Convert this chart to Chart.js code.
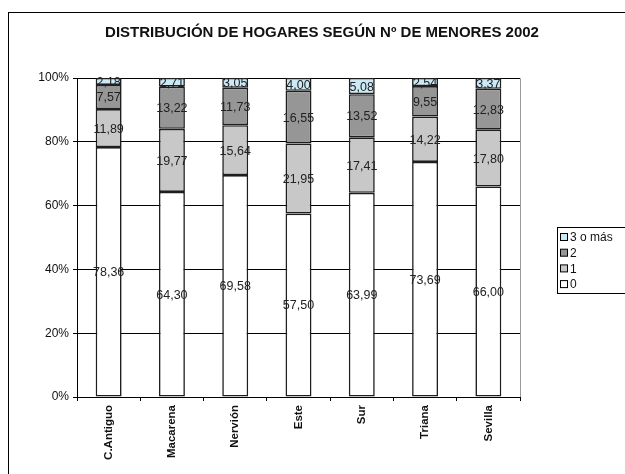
<!DOCTYPE html>
<html>
<head>
<meta charset="utf-8">
<script src="https://cdn.jsdelivr.net/npm/chart.js@4"></script>
<style>
  html, body { margin: 0; padding: 0; background: #fff; }
  #wrap { width: 625px; height: 474px; }
</style>
</head>
<body>
<div id="wrap"><canvas id="chart" width="625" height="474"></canvas></div>
<script>
const chartTitle = "DISTRIBUCIÓN DE HOGARES SEGÚN Nº DE MENORES 2002";
const districts = ["C.Antiguo", "Macarena", "Nervión", "Este", "Sur", "Triana", "Sevilla"];
const seriesNames = ["0", "1", "2", "3 o más"];
const zero = [78.36, 64.30, 69.58, 57.50, 63.99, 73.69, 66.00];
const one = [11.89, 19.77, 15.64, 21.95, 17.41, 14.22, 17.80];
const two = [7.57, 13.22, 11.73, 16.55, 13.52, 9.55, 12.83];
const threePlus = [2.18, 2.71, 3.05, 4.00, 5.08, 2.54, 3.37];
const yTicks = [0, 20, 40, 60, 80, 100];

const fills = ["#ffffff", "#c8c8c8", "#969696", "#cceaf6"];
const FONT = "'Liberation Sans', Arial, sans-serif";

// frame, title and gray plot border
const decorPlugin = {
  id: "decor",
  beforeDraw(chart) {
    const ctx = chart.ctx;
    const a = chart.chartArea;
    ctx.save();
    ctx.fillStyle = "#fff";
    ctx.fillRect(0, 0, chart.width, chart.height);
    ctx.strokeStyle = "#000";
    ctx.lineWidth = 1;
    ctx.strokeRect(8.5, 12.5, 700, 600);
    ctx.fillStyle = "#111";
    ctx.font = "bold 15px " + FONT;
    ctx.textAlign = "center";
    ctx.textBaseline = "middle";
    ctx.fillText(chartTitle, 322, 33);
    ctx.strokeStyle = "#9a9a9a";
    ctx.beginPath();
    ctx.moveTo(a.left, a.top + 0.5);
    ctx.lineTo(a.right + 0.5, a.top + 0.5);
    ctx.lineTo(a.right + 0.5, a.bottom);
    ctx.stroke();
    ctx.restore();
  },
  afterDatasetsDraw(chart) {
    // value labels in each segment
    const ctx = chart.ctx;
    ctx.save();
    ctx.font = "12.5px " + FONT;
    ctx.fillStyle = "#222";
    ctx.textAlign = "center";
    ctx.textBaseline = "middle";
    chart.data.datasets.forEach((ds, i) => {
      chart.getDatasetMeta(i).data.forEach((bar, j) => {
        const mid = (bar.y + bar.base) / 2;
        ctx.fillText(ds.data[j].toFixed(2).replace(".", ","), bar.x, mid + 1);
      });
    });
    // legend box, reversed order
    const lx = 557, ly = 227, lh = 66;
    ctx.strokeStyle = "#000";
    ctx.lineWidth = 1;
    ctx.strokeRect(lx + 0.5, ly + 0.5, 100, lh);
    ctx.textAlign = "left";
    ctx.font = "12px " + FONT;
    const n = chart.data.datasets.length;
    for (let k = 0; k < n; k++) {
      const ds = chart.data.datasets[n - 1 - k];
      const cy = ly + 10 + k * 15.7;
      ctx.fillStyle = ds.backgroundColor;
      ctx.fillRect(lx + 3.5, cy - 3.5, 7, 7);
      ctx.strokeRect(lx + 3.5, cy - 3.5, 7, 7);
      ctx.fillStyle = "#111";
      ctx.fillText(ds.label, lx + 13, cy + 1);
    }
    ctx.restore();
  }
};

const seriesData = [zero, one, two, threePlus];

new Chart(document.getElementById("chart"), {
  type: "bar",
  data: {
    labels: districts,
    datasets: seriesNames.map((name, i) => ({
      label: name,
      data: seriesData[i],
      backgroundColor: fills[i],
      borderColor: "#1e1e1e",
      borderWidth: 1.6,
      borderSkipped: false,
      barPercentage: 0.41,
      categoryPercentage: 1
    }))
  },
  options: {
    responsive: false,
    animation: false,
    devicePixelRatio: 1,
    layout: { padding: { left: 0, right: 105, top: 78, bottom: 0 } },
    plugins: {
      legend: { display: false },
      title: { display: false },
      tooltip: { enabled: false }
    },
    scales: {
      x: {
        stacked: true,
        offset: true,
        grid: { display: true, drawOnChartArea: false, drawTicks: true, tickLength: 4, color: "#000", offset: true },
        border: { color: "#000", width: 1 },
        ticks: {
          minRotation: 90, maxRotation: 90, padding: 4,
          color: "#111",
          font: { family: FONT, size: 11.5, weight: "bold" }
        },
        afterFit(scale) { scale.height = 77; }
      },
      y: {
        stacked: true,
        min: 0, max: 100,
        afterBuildTicks(scale) { scale.ticks = yTicks.map(v => ({ value: v })); },
        grid: { color: "#000", lineWidth: 1, tickLength: 4, drawTicks: true },
        border: { color: "#000", width: 1 },
        ticks: {
          padding: 4,
          color: "#111",
          font: { family: FONT, size: 12 },
          callback: v => v + "%"
        },
        afterFit(scale) { scale.width = 77; }
      }
    }
  },
  plugins: [decorPlugin]
});
</script>
</body>
</html>
